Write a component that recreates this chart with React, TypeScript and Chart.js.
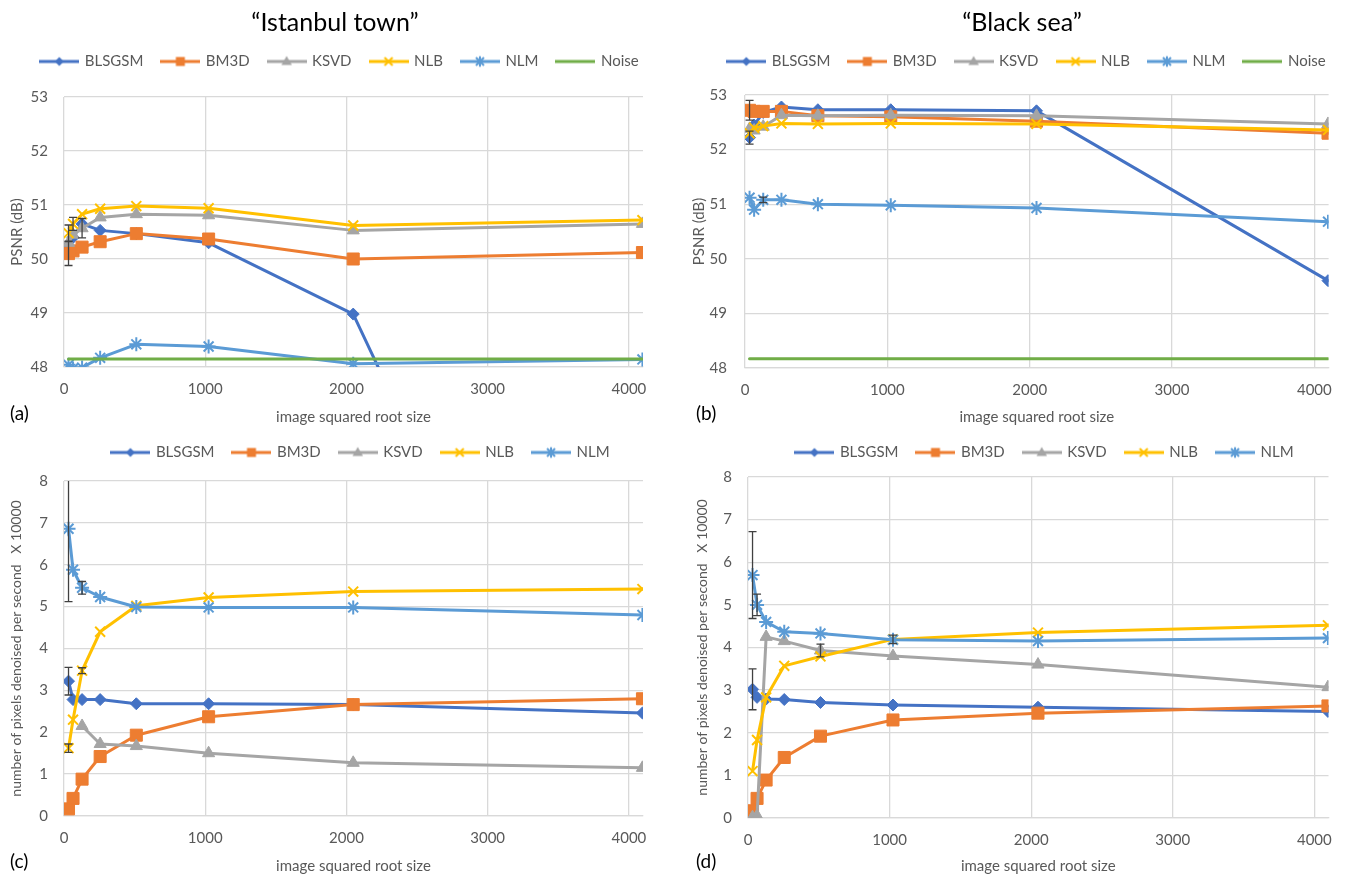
import React, { useEffect, useRef } from 'react';
import { Chart, registerables } from 'chart.js';

Chart.register(...registerables);

// ---------------- data ----------------
const xSizes = [32, 64, 128, 256, 512, 1024, 2048, 4096];
const xTickValues = [0, 1000, 2000, 3000, 4000];
const psnrTickValues = [48, 49, 50, 51, 52, 53];
const speedTickValues = [0, 1, 2, 3, 4, 5, 6, 7, 8];

const columnTitles = ['\u201CIstanbul town\u201D', '\u201CBlack sea\u201D'];
const panelLetters = ['(a)', '(b)', '(c)', '(d)'];
const xAxisTitle = 'image squared root size';
const psnrAxisTitle = 'PSNR (dB)';
const speedAxisTitle = 'number of pixels denoised per second   X 10000';

// (a) Istanbul town, PSNR
const aBLSGSM = [50.25, 50.4, 50.65, 50.53, 50.47, 50.3, 48.98, 37.6];
const aBM3D = [50.1, 50.15, 50.22, 50.32, 50.47, 50.37, 50.0, 50.12];
const aKSVD = [50.3, 50.45, 50.57, 50.77, 50.83, 50.81, 50.53, 50.65];
const aNLB = [50.48, 50.65, 50.83, 50.93, 50.98, 50.94, 50.62, 50.72];
const aNLM = [48.04, 47.97, 47.99, 48.17, 48.42, 48.38, 48.06, 48.14];
const aNoise = [48.15, 48.15, 48.15, 48.15, 48.15, 48.15, 48.15, 48.15];
const aErrBM3D = [0.22, null, null, null, null, null, null, null];
const aErrNLB = [0.15, 0.12, null, null, null, null, null, null];
const aErrKSVD = [null, null, 0.18, null, null, null, null, null];

// (b) Black sea, PSNR
const bBLSGSM = [52.22, 52.45, 52.68, 52.78, 52.73, 52.73, 52.71, 49.6];
const bBM3D = [52.72, 52.7, 52.7, 52.7, 52.62, 52.6, 52.52, 52.3];
const bKSVD = [52.38, 52.35, 52.42, 52.63, 52.62, 52.63, 52.62, 52.47];
const bNLB = [52.3, 52.4, 52.43, 52.48, 52.47, 52.48, 52.47, 52.36];
const bNLM = [51.12, 50.9, 51.08, 51.08, 51.0, 50.98, 50.93, 50.68];
const bNoise = [48.17, 48.17, 48.17, 48.17, 48.17, 48.17, 48.17, 48.17];
const bErrBLSGSM = [0.12, null, null, null, null, null, null, null];
const bErrBM3D = [0.18, null, null, null, null, null, null, null];
const bErrNLM = [null, null, 0.05, null, null, null, null, null];

// (c) Istanbul town, speed
const cBLSGSM = [3.22, 2.78, 2.78, 2.78, 2.68, 2.68, 2.66, 2.46];
const cBM3D = [0.17, 0.42, 0.88, 1.42, 1.93, 2.37, 2.66, 2.8];
const cKSVD = [null, null, 2.15, 1.72, 1.67, 1.5, 1.27, 1.15];
const cNLB = [1.62, 2.3, 3.47, 4.4, 5.02, 5.22, 5.36, 5.42];
const cNLM = [6.86, 5.88, 5.45, 5.23, 4.99, 4.98, 4.98, 4.8];
const cErrBLSGSM = [0.33, null, null, null, null, null, null, null];
const cErrNLB = [0.1, null, 0.07, null, null, null, null, null];
const cErrNLM = [1.74, null, 0.15, null, null, null, null, null];

// (d) Black sea, speed
const dBLSGSM = [3.02, 2.83, 2.79, 2.78, 2.71, 2.65, 2.6, 2.5];
const dBM3D = [0.17, 0.46, 0.89, 1.42, 1.92, 2.3, 2.46, 2.63];
const dKSVD = [0.02, 0.05, 4.25, 4.15, 3.93, 3.8, 3.6, 3.07];
const dNLB = [1.1, 1.83, 2.83, 3.57, 3.79, 4.19, 4.35, 4.52];
const dNLM = [5.7, 5.0, 4.6, 4.37, 4.33, 4.18, 4.15, 4.22];
const dErrBLSGSM = [0.48, null, null, null, null, null, null, null];
const dErrKSVD = [null, null, null, null, 0.15, null, null, null];
const dErrNLB = [null, null, null, null, null, 0.1, null, null];
const dErrNLM = [1.02, 0.25, null, null, null, null, null, null];

// ---------------- styles ----------------
const FONT = 'Lato, "Liberation Sans", sans-serif';
const TEXT = '#595959';
const GRID = '#D9D9D9';
const ERR = '#404040';

type Marker = 'rectRot' | 'rect' | 'triangle' | 'crossRot' | 'star' | 'none';
const STYLE: Record<string, { color: string; marker: Marker; radius: number; pbw: number }> = {
  BLSGSM: { color: '#4472C4', marker: 'rectRot', radius: 6, pbw: 1 },
  BM3D: { color: '#ED7D31', marker: 'rect', radius: 8.5, pbw: 1 },
  KSVD: { color: '#A5A5A5', marker: 'triangle', radius: 7, pbw: 1 },
  NLB: { color: '#FFC000', marker: 'crossRot', radius: 7, pbw: 2 },
  NLM: { color: '#5B9BD5', marker: 'star', radius: 7, pbw: 2 },
  Noise: { color: '#70AD47', marker: 'none', radius: 0, pbw: 0 },
};

type Series = { name: string; values: (number | null)[]; errors?: (number | null)[] };
type PanelSpec = {
  left: number; top: number; width: number; height: number;
  padTop: number; padRight: number;
  legendHeight: number; legendShift: number;
  yAxisWidth: number; xAxisHeight: number;
  xTitlePadBottom: number; yTitlePadTop: number; yTickPad: number;
  yMin: number; yMax: number; yTicks: number[]; yTitle: string; yTitleSize: number;
  series: Series[];
};

const panels: PanelSpec[] = [
  {
    left: 0, top: 34, width: 672, height: 394, padTop: 1, padRight: 29,
    legendHeight: 62, legendShift: 18.5, yAxisWidth: 64, xAxisHeight: 61,
    xTitlePadBottom: 2, yTitlePadTop: 8, yTickPad: 16,
    yMin: 48, yMax: 53, yTicks: psnrTickValues, yTitle: psnrAxisTitle, yTitleSize: 15,
    series: [
      { name: 'BLSGSM', values: aBLSGSM },
      { name: 'BM3D', values: aBM3D, errors: aErrBM3D },
      { name: 'KSVD', values: aKSVD, errors: aErrKSVD },
      { name: 'NLB', values: aNLB, errors: aErrNLB },
      { name: 'NLM', values: aNLM },
      { name: 'Noise', values: aNoise },
    ],
  },
  {
    left: 680, top: 34, width: 665, height: 394, padTop: 1, padRight: 10,
    legendHeight: 60, legendShift: 19.5, yAxisWidth: 65, xAxisHeight: 60,
    xTitlePadBottom: 2, yTitlePadTop: 10, yTickPad: 18,
    yMin: 48, yMax: 53, yTicks: psnrTickValues, yTitle: psnrAxisTitle, yTitleSize: 15,
    series: [
      { name: 'BLSGSM', values: bBLSGSM, errors: bErrBLSGSM },
      { name: 'BM3D', values: bBM3D, errors: bErrBM3D },
      { name: 'KSVD', values: bKSVD },
      { name: 'NLB', values: bNLB },
      { name: 'NLM', values: bNLM, errors: bErrNLM },
      { name: 'Noise', values: bNoise },
    ],
  },
  {
    left: 0, top: 424, width: 672, height: 452, padTop: 2, padRight: 29,
    legendHeight: 55, legendShift: 39.5, yAxisWidth: 64, xAxisHeight: 60,
    xTitlePadBottom: 1, yTitlePadTop: 8, yTickPad: 16,
    yMin: 0, yMax: 8, yTicks: speedTickValues, yTitle: speedAxisTitle, yTitleSize: 14,
    series: [
      { name: 'BLSGSM', values: cBLSGSM, errors: cErrBLSGSM },
      { name: 'BM3D', values: cBM3D },
      { name: 'KSVD', values: cKSVD },
      { name: 'NLB', values: cNLB, errors: cErrNLB },
      { name: 'NLM', values: cNLM, errors: cErrNLM },
    ],
  },
  {
    left: 680, top: 424, width: 665, height: 452, padTop: 2, padRight: 10,
    legendHeight: 51, legendShift: 37.5, yAxisWidth: 68, xAxisHeight: 58,
    xTitlePadBottom: 1, yTitlePadTop: 14, yTickPad: 16,
    yMin: 0, yMax: 8, yTicks: speedTickValues, yTitle: speedAxisTitle, yTitleSize: 14,
    series: [
      { name: 'BLSGSM', values: dBLSGSM, errors: dErrBLSGSM },
      { name: 'BM3D', values: dBM3D },
      { name: 'KSVD', values: dKSVD, errors: dErrKSVD },
      { name: 'NLB', values: dNLB, errors: dErrNLB },
      { name: 'NLM', values: dNLM, errors: dErrNLM },
    ],
  },
];

// ---------------- helpers ----------------
function drawMarker(g: CanvasRenderingContext2D, m: Marker, x: number, y: number, r: number, color: string) {
  g.fillStyle = color;
  g.strokeStyle = color;
  g.lineWidth = 2;
  g.beginPath();
  if (m === 'rectRot') {
    g.moveTo(x - r, y); g.lineTo(x, y - r); g.lineTo(x + r, y); g.lineTo(x, y + r); g.closePath(); g.fill();
  } else if (m === 'rect') {
    g.rect(x - r, y - r, 2 * r, 2 * r); g.fill();
  } else if (m === 'triangle') {
    g.moveTo(x, y - r); g.lineTo(x + r * 0.95, y + r * 0.65); g.lineTo(x - r * 0.95, y + r * 0.65); g.closePath(); g.fill();
  } else if (m === 'crossRot') {
    g.moveTo(x - r, y - r); g.lineTo(x + r, y + r); g.moveTo(x + r, y - r); g.lineTo(x - r, y + r); g.stroke();
  } else if (m === 'star') {
    g.moveTo(x - r, y - r); g.lineTo(x + r, y + r); g.moveTo(x + r, y - r); g.lineTo(x - r, y + r);
    g.moveTo(x, y - r * 1.3); g.lineTo(x, y + r * 1.3); g.stroke();
  }
}

const iconCache: Record<string, HTMLCanvasElement> = {};
function legendIcon(name: string): HTMLCanvasElement {
  if (iconCache[name]) return iconCache[name];
  const st = STYLE[name];
  const c = document.createElement('canvas');
  c.width = 40; c.height = 16;
  const g = c.getContext('2d')!;
  g.strokeStyle = st.color; g.lineWidth = 3; g.lineCap = 'butt';
  g.beginPath(); g.moveTo(0, 8); g.lineTo(40, 8); g.stroke();
  const sizes: Record<string, number> = { rectRot: 4.5, rect: 4.5, triangle: 5.5, crossRot: 4, star: 4 };
  if (st.marker !== 'none') drawMarker(g, st.marker, 20, 8, sizes[st.marker], st.color);
  iconCache[name] = c;
  return c;
}

const panelLayoutPlugin = {
  id: 'panelLayout',
  afterInit(chart: any, _args: any, opts: any) {
    const lg = chart.legend;
    if (!lg) return;
    const fit = lg.fit.bind(lg);
    lg.fit = () => { fit(); lg.height = opts.legendHeight; };
  },
  afterLayout(chart: any, _args: any, opts: any) {
    const lg = chart.legend;
    if (lg) { lg.left += opts.legendShift; lg.right += opts.legendShift; }
  },
};

const errorBarPlugin = {
  id: 'errorBars',
  afterDatasetsDraw(chart: any) {
    const { ctx, chartArea, scales } = chart;
    ctx.save();
    ctx.beginPath();
    ctx.rect(chartArea.left, chartArea.top, chartArea.right - chartArea.left, chartArea.bottom - chartArea.top);
    ctx.clip();
    ctx.strokeStyle = ERR;
    ctx.lineWidth = 1.3;
    chart.data.datasets.forEach((ds: any) => {
      if (!ds.errors) return;
      ds.errors.forEach((e: number | null, i: number) => {
        const pt = ds.data[i];
        if (e == null || pt.y == null) return;
        const x = scales.x.getPixelForValue(pt.x);
        const y1 = scales.y.getPixelForValue(pt.y + e);
        const y2 = scales.y.getPixelForValue(pt.y - e);
        ctx.beginPath();
        ctx.moveTo(x, y1); ctx.lineTo(x, y2);
        ctx.moveTo(x - 4, y1); ctx.lineTo(x + 4, y1);
        ctx.moveTo(x - 4, y2); ctx.lineTo(x + 4, y2);
        ctx.stroke();
      });
    });
    ctx.restore();
  },
};

function buildChart(canvas: HTMLCanvasElement, p: PanelSpec): Chart {
  const n = p.series.length;
  const datasets = p.series.map((s, i) => {
    const st = STYLE[s.name];
    return {
      label: s.name,
      data: xSizes.map((x, j) => ({ x, y: s.values[j] })),
      errors: s.errors,
      borderColor: st.color,
      backgroundColor: st.color,
      borderWidth: 3,
      borderJoinStyle: 'round',
      borderCapStyle: 'round',
      tension: 0,
      pointStyle: st.marker === 'none' ? 'circle' : st.marker,
      pointRadius: st.radius,
      pointBackgroundColor: st.color,
      pointBorderColor: st.color,
      pointBorderWidth: st.pbw,
      order: n - i,
    };
  });
  const font = { family: FONT, size: 15 };
  return new Chart(canvas, {
    type: 'line',
    data: { datasets } as any,
    plugins: [panelLayoutPlugin as any, errorBarPlugin as any],
    options: {
      responsive: false,
      animation: false,
      events: [],
      layout: { padding: { top: p.padTop, right: p.padRight, bottom: 0, left: 0 } },
      plugins: {
        tooltip: { enabled: false },
        legend: {
          display: true,
          position: 'top',
          labels: {
            usePointStyle: true,
            pointStyleWidth: 36,
            padding: 19,
            color: TEXT,
            font,
            generateLabels: (chart: any) =>
              chart.data.datasets.map((ds: any, i: number) => ({
                text: ds.label,
                pointStyle: legendIcon(ds.label),
                fillStyle: ds.borderColor,
                strokeStyle: ds.borderColor,
                lineWidth: 0,
                hidden: false,
                datasetIndex: i,
                fontColor: TEXT,
              })),
          },
        },
        panelLayout: { legendHeight: p.legendHeight, legendShift: p.legendShift },
      } as any,
      scales: {
        x: {
          type: 'linear',
          min: 0,
          max: 4100,
          grid: { color: GRID, drawTicks: false, lineWidth: 1.3 },
          border: { color: GRID, width: 1.3 },
          ticks: { color: TEXT, font, padding: 13, callback: (v: any) => String(v) },
          afterBuildTicks: (s: any) => { s.ticks = xTickValues.map((v) => ({ value: v })); },
          afterFit: (s: any) => { s.height = p.xAxisHeight; },
          title: { display: true, text: xAxisTitle, color: TEXT, font, padding: { top: 0, bottom: p.xTitlePadBottom } },
        },
        y: {
          type: 'linear',
          min: p.yMin,
          max: p.yMax,
          grid: { color: GRID, drawTicks: false, lineWidth: 1.3 },
          border: { display: false },
          ticks: { color: TEXT, font, padding: p.yTickPad, callback: (v: any) => String(v) },
          afterBuildTicks: (s: any) => { s.ticks = p.yTicks.map((v) => ({ value: v })); },
          afterFit: (s: any) => { s.width = p.yAxisWidth; },
          title: { display: true, text: p.yTitle, color: TEXT, font: { family: FONT, size: p.yTitleSize }, padding: { top: p.yTitlePadTop, bottom: 0 } },
        },
      },
    } as any,
  });
}

function Panel({ spec }: { spec: PanelSpec }) {
  const ref = useRef<HTMLCanvasElement | null>(null);
  useEffect(() => {
    if (!ref.current) return;
    const chart = buildChart(ref.current, spec);
    return () => chart.destroy();
  }, [spec]);
  return (
    <canvas
      ref={ref}
      width={spec.width}
      height={spec.height}
      style={{ position: 'absolute', left: spec.left, top: spec.top, width: spec.width, height: spec.height }}
    />
  );
}

const letterPos = [
  { left: 10, top: 412 },
  { left: 696, top: 412 },
  { left: 10, top: 860 },
  { left: 696, top: 860 },
];
const titlePos = [
  { left: 335, top: 21 },
  { left: 1022, top: 21 },
];

export default function App() {
  return (
    <div style={{ position: 'absolute', left: 0, top: 0, width: 1345, height: 876, background: '#fff', overflow: 'hidden', fontFamily: FONT }}>
      {panels.map((p, i) => <Panel key={i} spec={p} />)}
      {columnTitles.map((t, i) => (
        <div key={t} style={{ position: 'absolute', left: titlePos[i].left, top: titlePos[i].top, transform: 'translate(-50%, -50%)', fontSize: 25, color: '#000', whiteSpace: 'nowrap', lineHeight: 1 }}>{t}</div>
      ))}
      {panelLetters.map((t, i) => (
        <div key={t} style={{ position: 'absolute', left: letterPos[i].left, top: letterPos[i].top, transform: 'translateY(-50%)', fontSize: 19, color: '#000', whiteSpace: 'nowrap', lineHeight: 1 }}>{t}</div>
      ))}
    </div>
  );
}
